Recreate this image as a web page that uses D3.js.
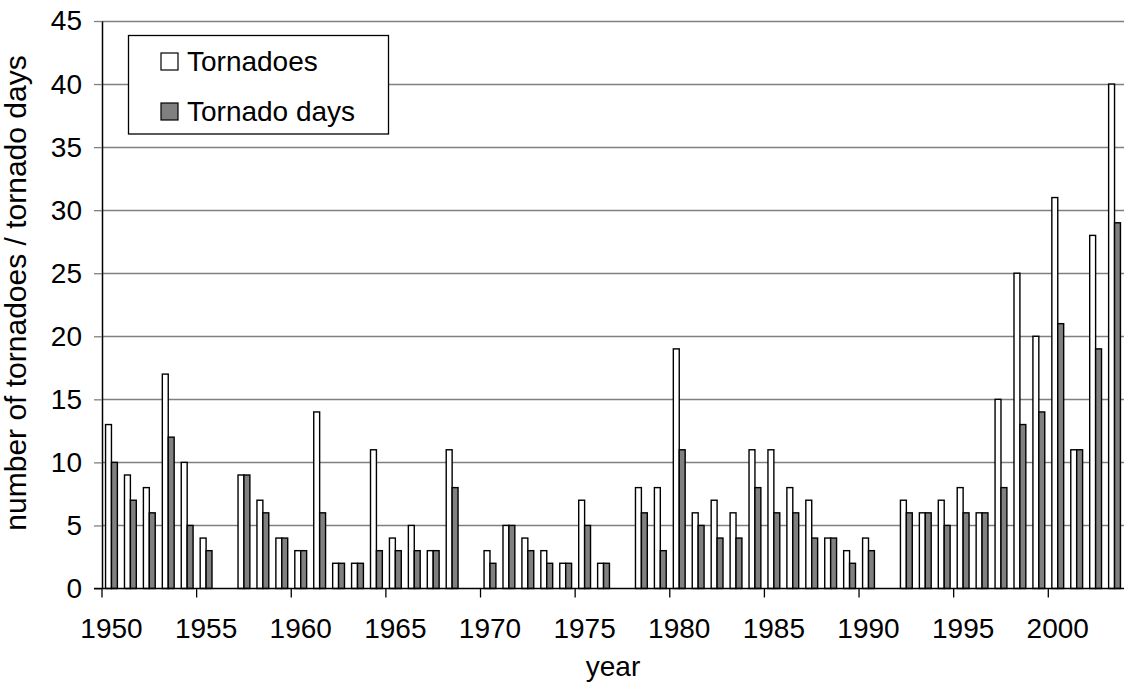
<!DOCTYPE html>
<html>
<head>
<meta charset="utf-8">
<script src="https://cdn.jsdelivr.net/npm/d3@7"></script>
<style>
  body { margin: 0; background: #fff; }
  text { font-family: "Liberation Sans", Arial, sans-serif; fill: #000; }
</style>
</head>
<body>
<div class="viz"></div>
<script>
var width = 1125, height = 686;
var margin = { top: 21, right: 1, bottom: 98, left: 102 };

// data
var years = d3.range(1950, 2004);
var tornadoes = [13, 9, 8, 17, 10, 4, 0, 9, 7, 4,
                 3, 14, 2, 2, 11, 4, 5, 3, 11, 0,
                 3, 5, 4, 3, 2, 7, 2, 0, 8, 8,
                 19, 6, 7, 6, 11, 11, 8, 7, 4, 3,
                 4, 0, 7, 6, 7, 8, 6, 15, 25, 20,
                 31, 11, 28, 40];
var tornadoDays = [10, 7, 6, 12, 5, 3, 0, 9, 6, 4,
                   3, 6, 2, 2, 3, 3, 3, 3, 8, 0,
                   2, 5, 3, 2, 2, 5, 2, 0, 6, 3,
                   11, 5, 4, 4, 8, 6, 6, 4, 4, 2,
                   3, 0, 6, 6, 5, 6, 6, 8, 13, 14,
                   21, 11, 19, 29];
var seriesNames = ['Tornadoes', 'Tornado days'];
var seriesColors = ['#ffffff', '#808080'];
var yTicks = d3.range(0, 46, 5);
var xTickYears = d3.range(1950, 2001, 5);

var rows = years.map(function (yr, i) {
    return { year: yr, values: [tornadoes[i], tornadoDays[i]] };
});

var svg = d3.select('.viz').append('svg')
    .attr('width', width)
    .attr('height', height);

var x0 = d3.scaleBand()
    .domain(years)
    .range([margin.left, width - margin.right])
    .padding(0);

var x1 = d3.scaleBand()
    .domain([0, 1])
    .range([0, x0.bandwidth()])
    .paddingInner(0)
    .paddingOuter(0.6);

var y = d3.scaleLinear()
    .domain([0, 45])
    .range([height - margin.bottom + 0.5, margin.top]);

// gridlines
svg.append('g')
    .selectAll('line')
    .data(yTicks.filter(function (d) { return d > 0; }))
    .enter().append('line')
    .attr('x1', margin.left)
    .attr('x2', width - margin.right)
    .attr('y1', function (d) { return Math.round(y(d)) + 0.5; })
    .attr('y2', function (d) { return Math.round(y(d)) + 0.5; })
    .attr('stroke', '#808080')
    .attr('stroke-width', 1.3);

// bars
var groups = svg.append('g')
    .selectAll('g')
    .data(rows)
    .enter().append('g')
    .attr('transform', function (d) { return 'translate(' + x0(d.year) + ',0)'; });

groups.selectAll('rect')
    .data(function (d) { return d.values.filter(function (v) { return v > 0; }).length ? d.values : []; })
    .enter().append('rect')
    .attr('x', function (d, i) { return x1(i); })
    .attr('width', x1.bandwidth())
    .attr('y', function (d) { return y(d); })
    .attr('height', function (d) { return y(0) - y(d); })
    .attr('fill', function (d, i) { return seriesColors[i]; })
    .attr('stroke', '#000')
    .attr('stroke-width', 1.4);

// y axis
var yAxis = svg.append('g')
    .attr('transform', 'translate(' + margin.left + ',0)')
    .call(d3.axisLeft(y).tickValues(yTicks).tickSize(8).tickPadding(12).tickSizeOuter(0));
yAxis.select('.domain').attr('stroke', '#000').attr('stroke-width', 1.5);
yAxis.selectAll('.tick line').attr('stroke', '#808080').attr('stroke-width', 1.3);
yAxis.selectAll('text').style('font-size', '28px');

// x axis, ticks at the category edges
var xAxis = svg.append('g')
    .attr('transform', 'translate(0,' + y(0) + ')')
    .call(d3.axisBottom(x0).tickValues(xTickYears).tickSize(9).tickPadding(21).tickSizeOuter(0));
xAxis.select('.domain').attr('stroke', '#000').attr('stroke-width', 1.5)
    .attr('d', 'M' + (margin.left - 8) + ',0H' + (width - margin.right));
xAxis.selectAll('.tick line')
    .attr('transform', 'translate(' + (-x0.bandwidth() / 2) + ',0)')
    .attr('stroke', '#000').attr('stroke-width', 1.3);
xAxis.selectAll('text').style('font-size', '28px');

// axis titles
svg.append('text')
    .attr('x', (margin.left + width - margin.right) / 2)
    .attr('y', 676)
    .attr('text-anchor', 'middle')
    .style('font-size', '28px')
    .text('year');

svg.append('text')
    .attr('transform', 'translate(26,' + 293 + ') rotate(-90)')
    .attr('text-anchor', 'middle')
    .style('font-size', '30px')
    .text('number of tornadoes / tornado days');

// legend
var legend = svg.append('g');
legend.append('rect')
    .attr('x', 128.5).attr('y', 35.5)
    .attr('width', 260).attr('height', 98.5)
    .attr('fill', '#fff')
    .attr('stroke', '#000')
    .attr('stroke-width', 1.3);

var items = legend.selectAll('g.item')
    .data(seriesNames)
    .enter().append('g')
    .attr('class', 'item')
    .attr('transform', function (d, i) { return 'translate(161,' + (53 + i * 50) + ')'; });
items.append('rect')
    .attr('width', 17).attr('height', 17)
    .attr('fill', function (d, i) { return seriesColors[i]; })
    .attr('stroke', '#000')
    .attr('stroke-width', 1.2);
items.append('text')
    .attr('x', 26)
    .attr('y', 18)
    .style('font-size', '28px')
    .text(function (d) { return d; });
</script>
</body>
</html>
